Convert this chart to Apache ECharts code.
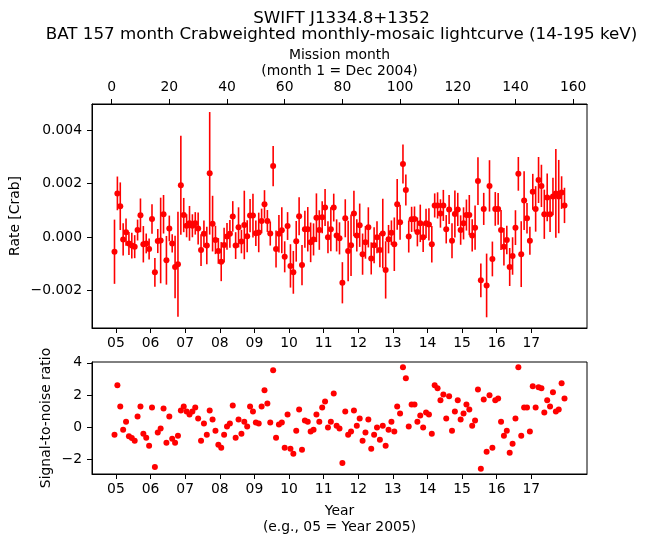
<!DOCTYPE html>
<html>
<head>
<meta charset="utf-8">
<script src="https://cdn.jsdelivr.net/npm/echarts@6/dist/echarts.min.js"></script>
<style>
html,body{margin:0;padding:0;background:#fff;}
#chart{width:646px;height:543px;}
</style>
</head>
<body>
<div id="chart"></div>
<script>
const months = [1,2,3,4,5,6,7,8,9,10,11,12,13,14,15,16,17,18,19,20,21,22,23,24,25,26,27,28,29,30,31,32,33,34,35,36,37,38,39,40,41,42,43,44,45,46,47,48,49,50,51,52,53,54,55,56,57,58,59,60,61,62,63,64,65,66,67,68,69,70,71,72,73,74,75,76,77,78,79,80,81,82,83,84,85,86,87,88,89,90,91,92,93,94,95,96,97,98,99,100,101,102,103,104,105,106,107,108,109,110,111,112,113,114,115,116,117,118,119,120,121,122,123,124,125,126,127,128,129,130,131,132,133,134,135,136,137,138,139,140,141,142,143,144,145,146,147,148,149,150,151,152,153,154,155,156,157];

const rate = [-0.00055,0.00163,0.00115,-0.00009,0.00018,-0.00024,-0.00032,-0.00036,0.00026,0.00081,
-0.00027,-0.00024,-0.00045,0.00067,-0.00132,-0.00015,-0.00013,0.00085,-0.00087,0.00032,
-0.00024,-0.00112,-0.00102,0.00193,0.00082,0.00042,0.00051,0.00042,0.00051,0.00032,
-0.00049,0.00012,-0.00032,0.00238,0.00050,-0.00011,-0.00052,-0.00092,-0.00030,0.00002,
0.00012,0.00077,-0.00032,0.00036,-0.00017,0.00045,0.00003,0.00080,0.00080,0.00014,
0.00017,0.00060,0.00122,0.00060,0.00013,0.00265,-0.00045,0.00012,0.00025,-0.00074,
0.00041,-0.00108,-0.00132,-0.00016,0.00078,-0.00105,0.00029,0.00029,-0.00020,-0.00009,
0.00072,0.00026,0.00074,0.00110,-0.00001,0.00029,0.00110,0.00006,-0.00005,-0.00171,
0.00070,-0.00052,-0.00031,0.00088,0.00006,0.00044,-0.00064,-0.00020,0.00036,-0.00080,
-0.00031,-0.00001,-0.00049,0.00013,-0.00123,-0.00008,0.00016,-0.00027,0.00122,0.00055,
0.00273,0.00176,0.00002,0.00066,0.00067,0.00019,0.00051,-0.00001,0.00051,0.00047,
-0.00027,0.00118,0.00118,0.00088,0.00118,0.00029,0.00103,-0.00014,0.00086,0.00103,
0.00026,0.00051,0.00082,0.00082,0.00006,0.00035,0.00209,-0.00162,0.00105,-0.00181,
0.00191,-0.00082,0.00105,0.00105,0.00026,-0.00036,-0.00011,-0.00112,-0.00071,0.00035,
0.00236,-0.00064,0.00136,0.00070,-0.00014,0.00169,0.00105,0.00213,0.00191,0.00085,
0.00148,0.00085,0.00151,0.00163,0.00151,0.00166,0.00118];

const rateErr = [0.00120,0.00063,0.00089,0.00060,0.00051,0.00043,0.00048,0.00043,0.00039,0.00063,
0.00068,0.00037,0.00039,0.00055,0.00054,0.00045,0.00160,0.00072,0.00091,0.00048,
0.00034,0.00117,0.00196,0.00185,0.00064,0.00043,0.00065,0.00043,0.00042,0.00060,
0.00059,0.00050,0.00070,0.00229,0.00104,0.00053,0.00048,0.00073,0.00065,0.00050,
0.00052,0.00057,0.00050,0.00075,0.00044,0.00128,0.00060,0.00062,0.00082,0.00048,
0.00074,0.00046,0.00053,0.00041,0.00045,0.00075,0.00069,0.00070,0.00086,0.00058,
0.00052,0.00081,0.00080,0.00076,0.00071,0.00075,0.00069,0.00083,0.00074,0.00060,
0.00091,0.00074,0.00060,0.00069,0.00060,0.00082,0.00052,0.00060,0.00060,0.00077,
0.00071,0.00113,0.00115,0.00085,0.00060,0.00081,0.00077,0.00061,0.00075,0.00060,
0.00067,0.00060,0.00064,0.00130,0.00107,0.00053,0.00046,0.00100,0.00095,0.00065,
0.00073,0.00058,0.00060,0.00047,0.00047,0.00054,0.00070,0.00055,0.00055,0.00060,
0.00068,0.00045,0.00049,0.00053,0.00058,0.00053,0.00054,0.00065,0.00088,0.00062,
0.00055,0.00060,0.00058,0.00075,0.00060,0.00083,0.00089,0.00063,0.00060,0.00119,
0.00096,0.00065,0.00063,0.00059,0.00075,0.00070,0.00053,0.00071,0.00070,0.00065,
0.00063,0.00123,0.00110,0.00057,0.00052,0.00067,0.00085,0.00086,0.00079,0.00092,
0.00089,0.00066,0.00070,0.00166,0.00137,0.00061,0.00066];

const snr = [-0.46,2.60,1.29,-0.15,0.35,-0.56,-0.67,-0.83,0.67,1.29,
-0.40,-0.65,-1.15,1.23,-2.46,-0.33,-0.08,1.17,-0.96,0.67,
-0.71,-0.96,-0.52,1.04,1.29,0.98,0.79,0.98,1.23,0.54,
-0.83,0.23,-0.46,1.04,0.48,-0.21,-1.08,-1.27,-0.46,0.04,
0.23,1.35,-0.65,0.48,-0.40,0.35,0.04,1.29,0.98,0.29,
0.23,1.29,2.29,1.48,0.29,3.54,-0.65,0.17,0.29,-1.27,
0.79,-1.33,-1.65,-0.21,1.10,-1.40,0.42,0.35,-0.27,-0.15,
0.79,0.35,1.23,1.60,-0.02,0.35,2.10,0.10,-0.08,-2.21,
0.98,-0.46,-0.27,1.04,0.10,0.54,-0.83,-0.33,0.48,-1.33,
-0.46,-0.02,-0.77,0.10,-1.15,-0.15,0.35,-0.27,1.29,0.85,
3.73,3.04,0.04,1.42,1.42,0.35,0.73,-0.02,0.92,0.79,
-0.40,2.60,2.42,1.67,2.04,0.54,1.92,-0.21,0.98,1.67,
0.48,0.85,1.42,1.10,0.10,0.42,2.35,-2.58,1.73,-1.52,
1.98,-1.27,1.67,1.79,0.35,-0.52,-0.21,-1.58,-1.02,0.54,
3.73,-0.52,1.23,1.23,-0.27,2.54,1.23,2.48,2.42,0.92,
1.67,1.29,2.17,0.98,1.10,2.73,1.79];

const monthTicks = [0,20,40,60,80,100,120,140,160];
const yearTicks = [1.5,13.5,25.5,37.5,49.5,61.5,73.5,85.5,97.5,109.5,121.5,133.5,145.5];
const yearLabels = ['05','06','07','08','09','10','11','12','13','14','15','16','17'];
const rateTicks = [-0.002,0,0.002,0.004];
const snrTicks = [-2,0,2,4];

const FONT = 'DejaVu Sans';
const XMIN = -6.8, XMAX = 164.8;
const L = 92, R = 646 - 587;

function yearFmt(v){
  for (let i=0;i<yearTicks.length;i++){ if (Math.abs(yearTicks[i]-v) < 1e-6) return yearLabels[i]; }
  return '';
}
function minus(s){ return String(s).replace('-', '\u2212'); }

const tickStyle = {show:true, length:5, lineStyle:{color:'#000', width:1}};
const lblStyle = {color:'#000', fontSize:13.9, fontFamily:FONT};
const nameStyle = {color:'#000', fontSize:13.9, fontFamily:FONT, lineHeight:16};

const errData = months.map((m,i)=>[m, rate[i]-rateErr[i], rate[i]+rateErr[i]]);
const rateData = months.map((m,i)=>[m, rate[i]]);
const snrData = months.map((m,i)=>[m, snr[i]]);

const chart = echarts.init(document.getElementById('chart'), null, {renderer:'canvas'});
chart.setOption({
  animation:false,
  backgroundColor:'#fff',
  graphic:[
    {type:'text', x:341.5, y:19, style:{text:'SWIFT J1334.8+1352', font:'16.7px "DejaVu Sans"', fill:'#000', textAlign:'center', textVerticalAlign:'middle'}},
    {type:'text', x:341.5, y:35, style:{text:'BAT 157 month Crabweighted monthly-mosaic lightcurve (14-195 keV)', font:'16.7px "DejaVu Sans"', fill:'#000', textAlign:'center', textVerticalAlign:'middle'}}
  ],
  grid:[
    {left:L, right:R, top:104, height:224, show:true, borderColor:'#000', borderWidth:1, backgroundColor:'transparent', containLabel:false, outerBoundsMode:'none'},
    {left:L, right:R, top:362, height:112, show:true, borderColor:'#000', borderWidth:1, backgroundColor:'transparent', containLabel:false, outerBoundsMode:'none'}
  ],
  xAxis:[
    {gridIndex:0, type:'value', position:'top', min:XMIN, max:XMAX,
     axisLine:{show:true, onZero:false, lineStyle:{color:'#000', width:1}},
     axisTick:Object.assign({customValues:monthTicks}, tickStyle),
     axisLabel:Object.assign({customValues:monthTicks, margin:10}, lblStyle),
     splitLine:{show:false},
     name:'Mission month\n(month 1 = Dec 2004)', nameLocation:'middle', nameGap:25, nameMoveOverlap:false, nameTextStyle:nameStyle},
    {gridIndex:0, type:'value', position:'bottom', min:XMIN, max:XMAX,
     axisLine:{show:true, onZero:false, lineStyle:{color:'#000', width:1}},
     axisTick:Object.assign({customValues:yearTicks}, tickStyle),
     axisLabel:Object.assign({customValues:yearTicks, margin:8, formatter:yearFmt}, lblStyle),
     splitLine:{show:false}},
    {gridIndex:1, type:'value', position:'bottom', min:XMIN, max:XMAX,
     axisLine:{show:true, onZero:false, lineStyle:{color:'#000', width:1}},
     axisTick:Object.assign({customValues:yearTicks}, tickStyle),
     axisLabel:Object.assign({customValues:yearTicks, margin:8, formatter:yearFmt}, lblStyle),
     splitLine:{show:false},
     name:'Year\n(e.g., 05 = Year 2005)', nameLocation:'middle', nameGap:29, nameMoveOverlap:false, nameTextStyle:nameStyle}
  ],
  yAxis:[
    {gridIndex:0, type:'value', min:-0.0034, max:0.00497,
     axisLine:{show:true, onZero:false, lineStyle:{color:'#000', width:1}},
     axisTick:Object.assign({customValues:rateTicks}, tickStyle),
     axisLabel:Object.assign({customValues:rateTicks, margin:10, formatter:v=>minus(v.toFixed(3))}, lblStyle),
     splitLine:{show:false},
     name:'Rate [Crab]', nameLocation:'middle', nameGap:69, nameMoveOverlap:false, nameTextStyle:nameStyle},
    {gridIndex:1, type:'value', min:-2.9, max:4.05,
     axisLine:{show:true, onZero:false, lineStyle:{color:'#000', width:1}},
     axisTick:Object.assign({customValues:snrTicks}, tickStyle),
     axisLabel:Object.assign({customValues:snrTicks, margin:10, formatter:v=>minus(Math.round(v))}, lblStyle),
     splitLine:{show:false},
     name:'Signal-to-noise ratio', nameLocation:'middle', nameGap:38, nameMoveOverlap:false, nameTextStyle:nameStyle}
  ],
  series:[
    {type:'custom', xAxisIndex:0, yAxisIndex:0, data:errData, encode:{x:0, y:[1,2]},
     renderItem:function(params, api){
       const p1 = api.coord([api.value(0), api.value(1)]);
       const p2 = api.coord([api.value(0), api.value(2)]);
       return {type:'line', shape:{x1:p1[0], y1:p1[1], x2:p2[0], y2:p2[1]}, style:{stroke:'#ff0000', lineWidth:1.6}};
     }, z:2},
    {type:'scatter', xAxisIndex:0, yAxisIndex:0, data:rateData, symbol:'circle', symbolSize:6,
     itemStyle:{color:'#ff0000', opacity:1}, z:3},
    {type:'scatter', xAxisIndex:2, yAxisIndex:1, data:snrData, symbol:'circle', symbolSize:6,
     itemStyle:{color:'#ff0000', opacity:1}, z:3}
  ]
});
</script>
</body>
</html>
